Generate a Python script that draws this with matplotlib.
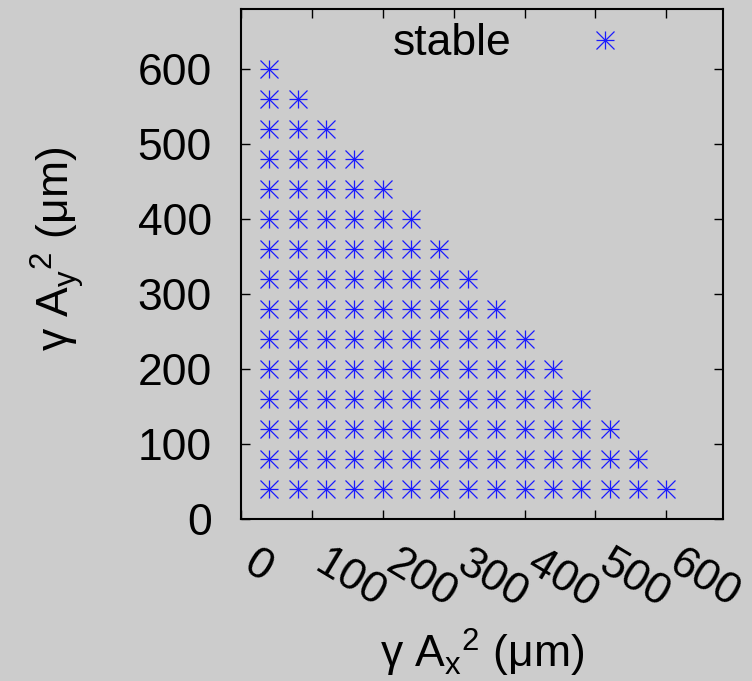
import matplotlib.pyplot as plt
import matplotlib.transforms as mtransforms
from matplotlib.lines import Line2D

# grid of stable (A_x^2, A_y^2) settings
grid_values = [40, 80, 120, 160, 200, 240, 280, 320, 360, 400, 440, 480, 520, 560, 600]
limit_sum = 640
tick_values = [0, 100, 200, 300, 400, 500, 600]
tick_labels = ['0', '100', '200', '300', '400', '500', '600']

stable_x = []
stable_y = []
for gy in grid_values:
    for gx in grid_values:
        if gx + gy <= limit_sum:
            stable_x.append(gx)
            stable_y.append(gy)

plt.rcParams['font.family'] = ['Liberation Sans', 'DejaVu Sans']
plt.rcParams['mathtext.fontset'] = 'custom'
plt.rcParams['mathtext.rm'] = 'Liberation Sans'

bg = '#cccccc'
star_color = '#1a1aff'
fig = plt.figure(figsize=(7.52, 6.81), dpi=100, facecolor=bg)
ax = fig.add_axes([241 / 752, (681 - 519) / 681, 482 / 752, 510 / 681])
ax.set_facecolor(bg)

# gnuplot-style asterisk = plus and cross drawn on top of each other
for m in ['+', 'x']:
    ax.plot(stable_x, stable_y, linestyle='none', marker=m, markersize=13.5,
            markeredgewidth=0.9, color=star_color)

h1 = Line2D([], [], linestyle='none', marker='+', markersize=13.5, markeredgewidth=0.9, color=star_color)
h2 = Line2D([], [], linestyle='none', marker='x', markersize=13.5, markeredgewidth=0.9, color=star_color)
ax.legend([(h1, h2)], ['stable'], loc='upper right', bbox_to_anchor=(0.848, 0.972),
          frameon=False, markerfirst=False, fontsize=32, handlelength=2.0,
          handletextpad=1.1, borderpad=0, borderaxespad=0)

ax.set_xlim(0, 680)
ax.set_ylim(0, 680)
ax.set_xticks(tick_values)
ax.set_yticks(tick_values)
ax.tick_params(direction='in', length=6.5, width=1, top=True, right=True, colors='black')
ax.tick_params(axis='y', pad=21)
ax.tick_params(axis='x', pad=0)
ax.set_yticklabels(tick_labels, fontsize=32)
ax.set_xticklabels(tick_labels, fontsize=32, rotation=-31, ha='left', va='top',
                   rotation_mode='anchor')
offset = mtransforms.ScaledTranslation(17 / 100, -24 / 100, fig.dpi_scale_trans)
for lbl in ax.get_xticklabels():
    lbl.set_transform(lbl.get_transform() + offset)

for s in ax.spines.values():
    s.set_linewidth(1.5)

ax.set_xlabel(r'γ A$_\mathregular{x}$$^\mathregular{2}$ (μm)', fontsize=32)
ax.set_ylabel(r'γ A$_\mathregular{y}$$^\mathregular{2}$ (μm)', fontsize=32)
ax.xaxis.set_label_coords(0.5, -0.212)
ax.yaxis.set_label_coords(-0.322, 0.53)

fig.savefig('out.png', dpi=100, facecolor=bg)
